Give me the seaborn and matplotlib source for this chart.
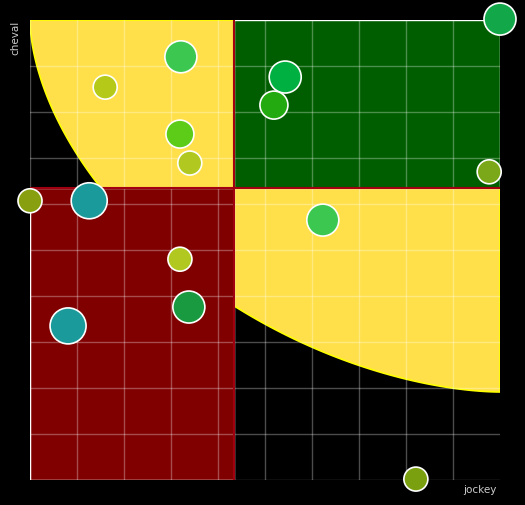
import numpy as np
import pandas as pd
import matplotlib
matplotlib.use("Agg")
import matplotlib.pyplot as plt
import seaborn as sns
from matplotlib.patches import Rectangle, Polygon

# data
jockey = [10.0, 3.21, 1.6, 5.43, 5.19, 3.19, 3.4, 9.77, 0.0, 1.26, 6.23, 3.19, 3.38, 0.81, 8.21]
cheval = [10.02, 9.2, 8.54, 8.76, 8.15, 7.52, 6.89, 6.7, 6.07, 6.07, 5.65, 4.8, 3.76, 3.35, 0.02]
radius = [16, 16, 12, 16, 14, 14, 12, 12, 12, 18, 16, 12, 16, 18, 12]
colors = ['#12a84a', '#3cc850', '#b5c918', '#00b040', '#22aa10', '#5ccc18', '#b0c820',
          '#7aa818', '#88a010', '#1a9a9a', '#3cc850', '#b0c820', '#1a9a40', '#1a9a9a', '#7aa010']
split_x = 4.34
split_y = 6.35

df = pd.DataFrame({'jockey': jockey, 'cheval': cheval, 'r': radius,
                   'id': [str(i) for i in range(len(jockey))]})
df['s'] = (2 * df['r'] * 0.72) ** 2

sns.set_style("dark")
fig = plt.figure(figsize=(5.25, 5.05), dpi=100, facecolor='black')
ax = fig.add_axes([30 / 525, 25 / 505, 470 / 525, 460 / 505])
ax.set_facecolor('black')
ax.set_xlim(0, 10)
ax.set_ylim(0, 10)

# yellow superellipse quarter anchored at the top-right corner
n = 1.75
t = np.linspace(0, np.pi / 2, 300)
u = np.cos(t) ** (2 / n)
v = np.sin(t) ** (2 / n)
ex = 10 - 10 * u
ey = 10 - (372 / 46) * v
pts = np.column_stack([np.r_[ex, 10], np.r_[ey, 10]])
ax.add_patch(Polygon(pts, closed=True, facecolor='#ffe04a', edgecolor='yellow', lw=1.2, zorder=1))
ax.add_patch(Rectangle((0, 0), split_x, split_y, facecolor='#800000', zorder=2))
ax.add_patch(Rectangle((split_x, split_y), 10 - split_x, 10 - split_y, facecolor='#005e00', zorder=2))

for g in range(1, 10):
    ax.axvline(g, color='white', alpha=0.3, lw=1, zorder=3)
    ax.axhline(g, color='white', alpha=0.3, lw=1, zorder=3)
ax.plot([split_x, split_x], [0, 10], color='#a00010', lw=1.5, zorder=4)
ax.plot([0, 10], [split_y, split_y], color='#a00010', lw=1.5, zorder=4)
ax.plot([0, 0, 10], [10, 0, 0], color='white', alpha=0.3, lw=1, zorder=3)

sns.scatterplot(data=df, x='jockey', y='cheval', hue='id', palette=colors, size='s',
                sizes=(df['s'].min(), df['s'].max()), edgecolor='white', linewidth=1.2,
                legend=False, ax=ax, zorder=5, clip_on=False, alpha=1)

ax.set_xticks([])
ax.set_yticks([])
ax.set_xlabel('')
ax.set_ylabel('')
for sp in ax.spines.values():
    sp.set_visible(False)
fig.text(480 / 525, 1 - 490 / 505, 'jockey', color='#cccccc', fontsize=7.5, ha='center', va='center')
fig.text(15 / 525, 1 - 38 / 505, 'cheval', color='#cccccc', fontsize=7.5, ha='center', va='center', rotation=90)

fig.savefig('out.png', dpi=100, facecolor='black')
